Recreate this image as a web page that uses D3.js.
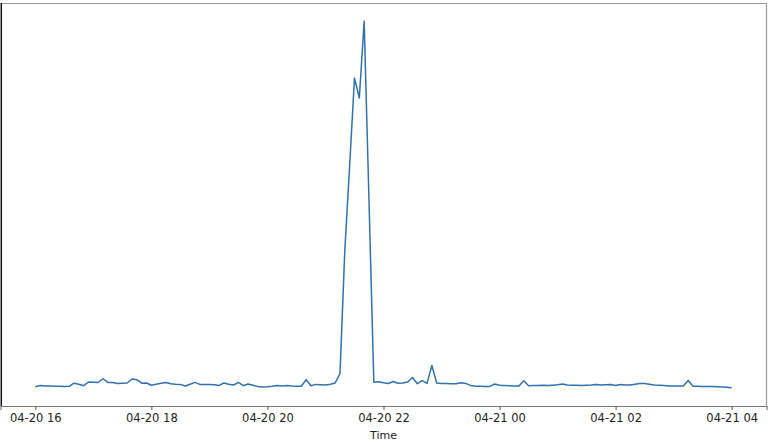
<!DOCTYPE html>
<html>
<head>
<meta charset="utf-8">
<script src="https://cdn.jsdelivr.net/npm/d3@7"></script>
<style>
  body { margin: 0; background: #fff; }
  text { font-family: "DejaVu Sans", sans-serif; }
</style>
</head>
<body>
<div id="container"></div>
<script>
/* CONSTANTS AND GLOBALS */
const width = 769,
  height = 444,
  margin = { top: 3, bottom: 38, left: 0.5, right: 2.5 };

/* DATA */
// 5 minute samples, 2024-04-20 16:00 -> 2024-04-21 04:00
const startTime = Date.UTC(2024, 3, 20, 16, 0);
const stepMinutes = 5;
const values = [
  3, 4.2, 3.8, 3.7, 3.5, 3.4, 3.3, 3.4, 6.5, 5.5,
  4, 7.7, 7.5, 7.2, 11, 7.3, 7.3, 6.3, 6.5, 6.7,
  10.7, 10, 6.5, 6.7, 4.5, 5.5, 6.5, 7.3, 6, 5.5,
  5.3, 3.7, 5.5, 7.3, 5.3, 5.2, 5.1, 5, 4.3, 6.7,
  5.5, 4.7, 7.3, 4, 5.7, 4.5, 3.3, 2.8, 2.9, 3.5,
  4.3, 3.8, 4.2, 3.7, 3.5, 3.5, 10, 4, 5.3, 5,
  4.7, 5.5, 6.8, 16, 140, 225, 313, 293, 370, 190,
  7.5, 8, 7, 6.2, 8.2, 6.4, 6.8, 7.7, 12.3, 6,
  9, 6.3, 24.3, 6.7, 6.2, 6.1, 6, 6, 7, 6.3,
  4.3, 3.5, 3.4, 3.3, 3.3, 5.7, 4.5, 4.2, 4, 3.8,
  3.7, 9, 4, 4.1, 4.2, 4.4, 4.1, 4.5, 5, 5.7,
  4.7, 4.5, 4.4, 4.3, 4.5, 4.6, 5.3, 4.7, 5, 5.3,
  4.3, 5.3, 4.8, 4.7, 5.5, 6.3, 6.3, 5.5, 4.8, 4.4,
  4.1, 3.8, 3.6, 3.7, 3.7, 9.3, 3.4, 3.4, 3.3, 3.2,
  3.1, 2.9, 2.7, 2.4, 2
];
const xLabel = "Time";

const data = values.map((v, i) => ({
  time: new Date(startTime + i * stepMinutes * 60000),
  value: v
}));

/* SCALES */
// matplotlib style 5% margins on both axes
const tExtent = d3.extent(data, d => d.time);
const tPad = (tExtent[1] - tExtent[0]) * 0.05;
const xScale = d3.scaleUtc()
  .domain([new Date(+tExtent[0] - tPad), new Date(+tExtent[1] + tPad)])
  .range([margin.left, width - margin.right]);

const vExtent = d3.extent(data, d => d.value);
const vPad = (vExtent[1] - vExtent[0]) * 0.05;
const yScale = d3.scaleLinear()
  .domain([vExtent[0] - vPad, vExtent[1] + vPad])
  .range([height - margin.bottom, margin.top]);

/* HTML ELEMENTS */
const svg = d3.select("#container")
  .append("svg")
  .attr("width", width)
  .attr("height", height);

// frame
const x0 = margin.left, x1 = width - margin.right,
  y0 = margin.top, y1 = height - margin.bottom;
svg.append("line").attr("x1", x0).attr("x2", x1).attr("y1", y0 + 0.5).attr("y2", y0 + 0.5)
  .attr("stroke", "#9a9a9a").attr("stroke-width", 1.2);
svg.append("line").attr("x1", x1).attr("x2", x1).attr("y1", y0).attr("y2", y1)
  .attr("stroke", "#9a9a9a").attr("stroke-width", 1.2);
svg.append("line").attr("x1", x0 + 0.8).attr("x2", x0 + 0.8).attr("y1", y0).attr("y2", y1)
  .attr("stroke", "#111").attr("stroke-width", 1.5);

// x axis
const xAxis = d3.axisBottom(xScale)
  .ticks(d3.utcHour.every(2))
  .tickFormat(d3.utcFormat("%m-%d %H"))
  .tickSize(4)
  .tickPadding(4);

const gx = svg.append("g")
  .attr("transform", `translate(0, ${y1})`)
  .call(xAxis);
gx.select(".domain").attr("stroke", "#777").attr("stroke-width", 1.2);
gx.selectAll(".tick line").attr("stroke", "#555").attr("stroke-width", 1);
gx.selectAll(".tick text")
  .attr("font-size", 11.5)
  .attr("fill", "#222")
  .attr("font-family", "DejaVu Sans, sans-serif");

svg.append("text")
  .attr("x", (x0 + x1) / 2)
  .attr("y", height - 5)
  .attr("text-anchor", "middle")
  .attr("font-size", 11)
  .attr("fill", "#222")
  .text(xLabel);

// line
const line = d3.line()
  .x(d => xScale(d.time))
  .y(d => yScale(d.value));

svg.append("path")
  .datum(data)
  .attr("fill", "none")
  .attr("stroke", "#2f72ad")
  .attr("stroke-width", 1.5)
  .attr("stroke-linejoin", "round")
  .attr("d", line);
</script>
</body>
</html>
